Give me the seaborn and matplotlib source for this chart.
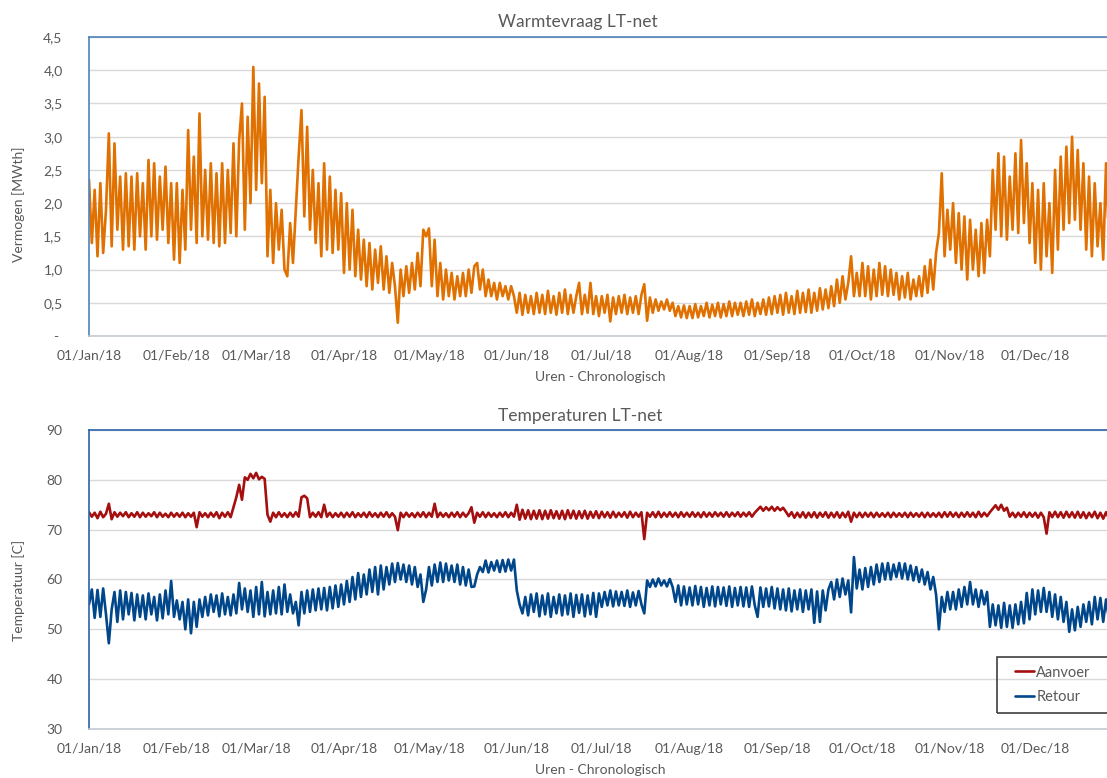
import pandas as pd
import matplotlib
matplotlib.use("Agg")
import matplotlib.pyplot as plt
import matplotlib.dates as mdates
from matplotlib.patches import Rectangle
from matplotlib.ticker import FuncFormatter, MultipleLocator
import seaborn as sns

sns.set_theme(style="white")
plt.rcParams['font.family'] = ['Lato', 'DejaVu Sans']

# dagwaarden (hoog/laag van de dagelijkse slingering)
warmte_jan = [2.35, 1.4, 2.2, 1.2, 2.3, 1.25, 1.9, 3.05, 1.35, 2.9, 1.6, 2.4, 1.3, 2.45, 1.35, 2.4,
              1.3, 2.45, 1.5, 2.3, 1.3, 2.65, 1.5, 2.6, 1.45, 2.4, 1.6, 2.55, 1.4, 2.3, 1.15]
warmte_feb = [2.3, 1.1, 2.2, 1.3, 3.1, 1.6, 2.7, 1.4, 3.35, 1.5, 2.5, 1.45, 2.6, 1.4, 2.45, 1.35,
              2.6, 1.4, 2.5, 1.55, 2.9, 1.5, 2.95, 3.5, 1.6, 3.3, 2.0, 4.05]
warmte_mar = [2.2, 3.8, 2.3, 3.6, 1.2, 2.2, 1.1, 2.0, 1.3, 1.9, 1.0, 0.9, 1.7, 1.1, 1.9, 2.7,
              3.4, 1.8, 3.15, 1.6, 2.5, 1.4, 2.3, 1.2, 2.6, 1.3, 2.4, 1.25, 2.2, 1.3, 2.15]
warmte_apr = [0.95, 2.0, 1.0, 1.9, 0.9, 1.6, 0.85, 1.45, 0.75, 1.4, 0.7, 1.3, 0.8, 1.35, 0.7,
              1.2, 0.65, 1.1, 0.75, 0.2, 1.0, 0.6, 1.05, 0.65, 1.1, 0.7, 1.25, 0.75, 1.6, 1.5]
warmte_mei = [1.62, 0.75, 1.45, 0.6, 1.1, 0.55, 1.0, 0.6, 0.95, 0.55, 0.9, 0.6, 0.95, 0.6, 1.0,
              0.65, 1.05, 1.1, 0.7, 1.0, 0.6, 0.85, 0.6, 0.8, 0.55, 0.8, 0.6, 0.75, 0.55, 0.75, 0.6]
warmte_jun = [0.35, 0.65, 0.32, 0.62, 0.35, 0.6, 0.33, 0.65, 0.35, 0.62, 0.33, 0.68, 0.35, 0.6,
              0.32, 0.65, 0.35, 0.7, 0.33, 0.62, 0.35, 0.6, 0.8, 0.33, 0.62, 0.35, 0.8, 0.33, 0.6, 0.3]
warmte_jul = [0.6, 0.35, 0.62, 0.22, 0.58, 0.33, 0.6, 0.35, 0.62, 0.33, 0.58, 0.35, 0.6, 0.33,
              0.62, 0.78, 0.23, 0.58, 0.35, 0.55, 0.38, 0.52, 0.4, 0.55, 0.38, 0.5, 0.3, 0.45,
              0.28, 0.46, 0.27]
warmte_aug = [0.45, 0.27, 0.48, 0.28, 0.45, 0.3, 0.5, 0.28, 0.47, 0.3, 0.5, 0.28, 0.48, 0.3, 0.52,
              0.3, 0.5, 0.32, 0.5, 0.3, 0.52, 0.32, 0.55, 0.3, 0.5, 0.33, 0.55, 0.32, 0.58, 0.33, 0.6]
warmte_sep = [0.35, 0.62, 0.32, 0.65, 0.35, 0.6, 0.33, 0.68, 0.35, 0.65, 0.36, 0.7, 0.35, 0.65,
              0.38, 0.72, 0.4, 0.7, 0.42, 0.75, 0.45, 0.85, 0.5, 0.9, 0.55, 0.8, 1.2, 0.6, 0.95, 0.6]
warmte_okt = [1.1, 0.6, 1.05, 0.55, 1.0, 0.6, 1.1, 0.62, 1.05, 0.6, 1.0, 0.62, 0.95, 0.55, 0.9,
              0.58, 0.95, 0.55, 0.85, 0.6, 0.9, 0.6, 1.05, 0.65, 1.15, 0.7, 1.25, 1.55, 2.45, 1.2, 1.9]
warmte_nov = [1.3, 2.0, 1.1, 1.85, 1.0, 1.8, 0.85, 1.75, 1.0, 1.6, 0.9, 1.7, 0.95, 1.75, 1.2,
              2.5, 1.6, 2.75, 1.5, 2.7, 1.45, 2.4, 1.6, 2.75, 1.55, 2.95, 1.7, 2.6, 1.4, 2.3]
warmte_dec = [1.1, 2.2, 1.0, 2.3, 1.2, 2.0, 0.95, 2.5, 1.3, 2.7, 1.6, 2.85, 1.7, 3.0, 1.75, 2.8,
              1.6, 2.6, 1.3, 2.4, 1.2, 2.3, 1.35, 2.0, 1.15, 2.6, 1.4, 2.5, 1.35, 2.4, 1.6]

aanvoer_jan = [73.5, 72.6, 73.4, 72.3, 73.6, 72.5, 73.2, 75.2, 72.1, 73.5, 72.6, 73.4, 72.7, 73.5,
               72.5, 73.3, 72.6, 73.5, 72.5, 73.4, 72.6, 73.3, 72.7, 73.5, 72.5, 73.4, 72.6, 73.2,
               72.5, 73.4, 72.6]
aanvoer_feb = [73.3, 72.6, 73.4, 72.5, 73.3, 72.6, 73.4, 70.5, 73.5, 72.6, 73.3, 72.5, 73.4, 72.6,
               73.5, 72.3, 73.4, 72.6, 73.5, 72.5, 74.5, 76.5, 79.0, 76.0, 80.5, 80.0, 81.2, 80.3]
aanvoer_mar = [81.4, 80.1, 80.6, 80.2, 73.0, 71.6, 73.4, 72.5, 73.5, 72.6, 73.3, 72.5, 73.4, 72.6,
               73.5, 72.6, 76.5, 76.8, 76.3, 72.5, 73.4, 72.6, 73.5, 72.5, 75.0, 72.6, 73.4, 72.5,
               73.3, 72.6, 73.4]
aanvoer_apr = [72.5, 73.4, 72.6, 73.5, 72.5, 73.3, 72.6, 73.4, 72.5, 73.5, 72.6, 73.3, 72.5, 73.4,
               72.6, 73.5, 72.5, 73.3, 72.6, 69.9, 73.4, 72.5, 73.4, 72.6, 73.3, 72.5, 73.4, 72.6,
               73.5, 72.5]
aanvoer_mei = [73.4, 72.6, 75.2, 72.5, 73.4, 72.6, 73.3, 72.5, 73.4, 72.6, 73.5, 72.5, 73.4, 72.6,
               73.3, 74.5, 71.4, 73.4, 72.6, 73.5, 72.5, 73.4, 72.6, 73.3, 72.5, 73.4, 72.6, 73.5,
               72.5, 73.4, 72.6]
aanvoer_jun = [75.0, 72.0, 74.0, 72.2, 73.9, 72.1, 73.8, 72.2, 73.9, 72.1, 73.8, 72.2, 73.9, 72.3,
               73.7, 72.2, 73.8, 72.1, 73.9, 72.3, 73.8, 72.2, 73.7, 72.3, 73.8, 72.2, 73.6, 72.4,
               73.7, 72.3]
aanvoer_jul = [73.6, 72.5, 73.5, 72.4, 73.6, 72.5, 73.4, 72.6, 73.5, 72.4, 73.6, 72.5, 73.4, 72.6,
               73.5, 68.1, 73.4, 72.6, 73.5, 72.5, 73.6, 72.5, 73.4, 72.6, 73.5, 72.6, 73.4, 72.5,
               73.5, 72.6, 73.4]
aanvoer_aug = [72.6, 73.5, 72.6, 73.4, 72.5, 73.5, 72.6, 73.4, 72.6, 73.5, 72.7, 73.4, 72.6, 73.5,
               72.6, 73.4, 72.7, 73.5, 72.6, 73.4, 72.7, 73.5, 72.6, 73.4, 74.0, 74.6, 73.8, 74.5,
               73.9, 74.6, 73.8]
aanvoer_sep = [74.5, 73.9, 74.4, 73.6, 72.7, 73.5, 72.4, 73.4, 72.5, 73.5, 72.4, 73.4, 72.5, 73.5,
               72.4, 73.4, 72.6, 73.5, 72.4, 73.4, 72.5, 73.5, 72.4, 73.4, 72.5, 73.6, 71.6, 73.4,
               72.5, 73.4]
aanvoer_okt = [72.5, 73.4, 72.6, 73.4, 72.5, 73.4, 72.6, 73.3, 72.6, 73.4, 72.5, 73.4, 72.6, 73.3,
               72.6, 73.4, 72.5, 73.4, 72.6, 73.3, 72.6, 73.4, 72.5, 73.4, 72.6, 73.3, 72.6, 73.4,
               72.5, 73.5, 72.6]
aanvoer_nov = [73.5, 72.6, 73.4, 72.5, 73.4, 72.6, 73.5, 72.6, 73.4, 72.5, 73.6, 72.6, 73.4, 72.7,
               73.5, 74.2, 74.9, 74.0, 75.0, 73.8, 74.4, 72.6, 73.4, 72.5, 73.4, 72.6, 73.5, 72.5,
               73.4, 72.6]
aanvoer_dec = [73.4, 72.4, 73.4, 72.5, 69.2, 73.5, 72.5, 73.6, 72.5, 73.5, 72.4, 73.6, 72.5, 73.5,
               72.4, 73.6, 72.4, 73.5, 72.3, 73.4, 72.5, 73.6, 72.3, 73.4, 72.2, 73.5, 72.3, 73.3,
               72.2, 73.4, 72.3]

retour_jan = [55.0, 58.0, 52.3, 57.9, 52.5, 58.2, 53.0, 47.2, 54.0, 57.5, 51.5, 57.8, 52.0, 57.5,
              53.0, 57.3, 51.8, 57.0, 52.5, 56.8, 52.0, 57.2, 53.0, 56.5, 51.8, 57.0, 52.2, 57.8,
              53.0, 59.7, 52.5]
retour_feb = [55.8, 52.0, 55.5, 50.0, 56.0, 49.2, 55.5, 50.5, 56.0, 52.5, 56.5, 52.8, 57.0, 53.5,
              56.8, 52.6, 57.2, 53.0, 56.5, 52.8, 57.0, 53.2, 59.3, 54.0, 58.2, 53.5, 57.8, 52.5]
retour_mar = [58.5, 53.0, 59.5, 52.6, 57.5, 53.0, 57.8, 53.2, 58.5, 53.0, 59.0, 53.5, 57.0, 53.2,
              55.5, 50.8, 57.5, 53.2, 57.8, 53.5, 58.0, 53.8, 58.2, 54.0, 58.3, 53.8, 58.5, 54.2,
              58.8, 54.5, 59.0]
retour_apr = [55.0, 59.7, 55.5, 60.5, 56.0, 61.3, 56.5, 61.0, 57.0, 62.0, 57.5, 62.5, 57.0, 62.8,
              58.0, 62.5, 59.0, 63.2, 59.5, 63.3, 60.0, 63.0, 59.5, 62.8, 59.0, 62.5, 58.5, 61.0,
              55.5, 58.0]
retour_mei = [62.5, 58.8, 63.0, 59.5, 63.4, 59.5, 63.2, 59.8, 62.8, 59.5, 63.0, 59.0, 62.5, 58.8,
              62.0, 58.5, 58.6, 61.0, 62.5, 61.5, 63.8, 61.4, 63.5, 61.8, 63.8, 61.5, 63.9, 61.6,
              64.0, 61.8, 64.0]
retour_jun = [57.8, 55.0, 53.2, 56.5, 52.8, 57.0, 53.5, 57.2, 52.6, 56.8, 53.0, 57.2, 52.5, 56.5,
              53.2, 57.0, 52.8, 56.8, 53.0, 57.2, 52.5, 56.9, 53.3, 57.0, 52.6, 56.8, 53.0, 57.3,
              52.5, 57.2]
retour_jul = [54.5, 57.5, 54.8, 57.8, 54.6, 57.6, 54.8, 57.5, 54.7, 57.8, 54.5, 57.4, 54.8, 57.7,
              55.0, 53.2, 59.8, 58.5, 60.0, 58.6, 60.2, 58.8, 59.8, 58.6, 60.1, 58.5, 55.5, 58.8,
              54.8, 58.6, 55.0]
retour_aug = [58.4, 54.8, 58.7, 55.0, 58.5, 54.5, 58.3, 54.8, 58.6, 54.6, 58.5, 55.0, 58.4, 54.7,
              58.6, 54.5, 58.3, 54.8, 58.5, 54.6, 58.4, 54.5, 58.6, 54.8, 52.5, 58.4, 54.5, 58.2,
              54.6, 58.5, 54.2]
retour_sep = [58.2, 54.0, 58.0, 53.8, 58.2, 53.6, 57.8, 54.0, 58.0, 53.5, 57.8, 54.0, 58.0, 51.3,
              57.6, 51.5, 57.8, 53.8, 58.0, 59.5, 56.0, 60.0, 56.5, 60.2, 57.0, 59.8, 53.4, 64.5,
              58.2, 62.0]
retour_okt = [58.0, 62.3, 58.5, 62.5, 59.0, 63.0, 59.5, 63.2, 60.0, 63.3, 60.0, 63.0, 60.5, 63.3,
              60.2, 63.2, 60.0, 62.8, 59.8, 62.5, 59.5, 62.0, 59.0, 61.5, 58.0, 60.5, 57.0, 50.0,
              56.5, 53.5, 57.5]
retour_nov = [54.0, 57.5, 54.0, 58.0, 54.5, 58.5, 55.0, 59.5, 55.0, 58.0, 54.5, 57.8, 55.0, 57.5,
              50.5, 55.0, 50.8, 54.8, 50.3, 55.3, 50.5, 54.8, 50.3, 55.0, 51.0, 55.5, 51.2, 57.3,
              52.0, 58.0]
retour_dec = [53.0, 57.8, 53.5, 58.3, 53.5, 57.5, 52.5, 57.0, 52.0, 56.5, 51.5, 55.5, 49.5, 54.0,
              49.8, 54.5, 50.5, 55.0, 51.5, 55.5, 51.0, 56.5, 52.0, 56.3, 51.5, 56.0, 52.0, 55.5,
              51.3, 54.0, 50.0]

warmte = (warmte_jan + warmte_feb + warmte_mar + warmte_apr + warmte_mei + warmte_jun
          + warmte_jul + warmte_aug + warmte_sep + warmte_okt + warmte_nov + warmte_dec)
aanvoer = (aanvoer_jan + aanvoer_feb + aanvoer_mar + aanvoer_apr + aanvoer_mei + aanvoer_jun
           + aanvoer_jul + aanvoer_aug + aanvoer_sep + aanvoer_okt + aanvoer_nov + aanvoer_dec)
retour = (retour_jan + retour_feb + retour_mar + retour_apr + retour_mei + retour_jun
          + retour_jul + retour_aug + retour_sep + retour_okt + retour_nov + retour_dec)

datums = pd.date_range('2018-01-01', periods=len(warmte), freq='D')

GRIJS = '#595959'
ORANJE = '#E07000'
ROOD = '#A50F0F'
BLAUW = '#00468B'

fig = plt.figure(figsize=(11.07, 7.78), dpi=100)
ax1 = fig.add_axes([0.0804, 0.5681, 0.9341, 0.3843])
ax2 = fig.add_axes([0.0804, 0.0630, 0.9341, 0.3843])

sns.lineplot(x=datums, y=warmte, ax=ax1, color=ORANJE, linewidth=1.9)
sns.lineplot(x=datums, y=aanvoer, ax=ax2, color=ROOD, linewidth=1.9, label='Aanvoer')
sns.lineplot(x=datums, y=retour, ax=ax2, color=BLAUW, linewidth=1.9, label='Retour')

maanden = pd.date_range('2018-01-01', '2018-12-01', freq='MS')
for ax, spine_kleur in [(ax1, '#4F81BD'), (ax2, '#2A64AC')]:
    ax.set_xlim(pd.Timestamp('2018-01-01'), pd.Timestamp('2019-01-01'))
    ax.set_xticks(maanden)
    ax.xaxis.set_major_formatter(mdates.DateFormatter('%d/%b/%y'))
    ax.grid(axis='y', color='#D9D9D9', linewidth=1)
    ax.set_axisbelow(True)
    ax.tick_params(axis='both', length=0, labelsize=10, labelcolor=GRIJS)
    ax.tick_params(axis='y', pad=19)
    ax.tick_params(axis='x', pad=10)
    for s in ['left', 'top', 'right']:
        ax.spines[s].set_color(spine_kleur)
        ax.spines[s].set_linewidth(1.2)
    ax.spines['bottom'].set_color('#C5CBD3')
    ax.spines['bottom'].set_linewidth(1.2)
    ax.set_xlabel('Uren - Chronologisch', fontsize=10, color=GRIJS)
    ax.xaxis.set_label_coords(0.494, -0.118)

ax1.set_ylim(0, 4.5)
ax1.yaxis.set_major_locator(MultipleLocator(0.5))
ax1.yaxis.set_major_formatter(FuncFormatter(
    lambda v, p: '- ' if abs(v) < 1e-9 else f'{v:.1f}'.replace('.', ',')))
ax1.set_ylabel('Vermogen [MWth]', fontsize=10, color=GRIJS)
ax1.yaxis.set_label_coords(-0.062, 0.44)

ax2.set_ylim(30, 90)
ax2.yaxis.set_major_locator(MultipleLocator(10))
ax2.set_ylabel('Temperatuur [C]', fontsize=10, color=GRIJS)
ax2.yaxis.set_label_coords(-0.062, 0.465)

fig.text(578 / 1107, 1 - 22 / 778, 'Warmtevraag LT-net', ha='center', va='center',
         fontsize=12.5, color=GRIJS)
fig.text(580 / 1107, 1 - 416 / 778, 'Temperaturen LT-net', ha='center', va='center',
         fontsize=12.5, color=GRIJS)

# legenda met eigen kader
ax2.legend_.remove()
handles, labels = ax2.get_legend_handles_labels()
fig.legend(handles, labels, loc='center left', bbox_to_anchor=(1015 / 1107, 1 - 685 / 778),
           frameon=False, fontsize=10.5, handlelength=1.3, handletextpad=0.15,
           labelspacing=0.75, borderpad=0, borderaxespad=0, labelcolor=GRIJS)
fig.add_artist(Rectangle((997 / 1107, 1 - 713 / 778), 140 / 1107, 56 / 778,
                         transform=fig.transFigure, fill=False, edgecolor='#404040', linewidth=1.2))

fig.savefig('out.png', dpi=100)
